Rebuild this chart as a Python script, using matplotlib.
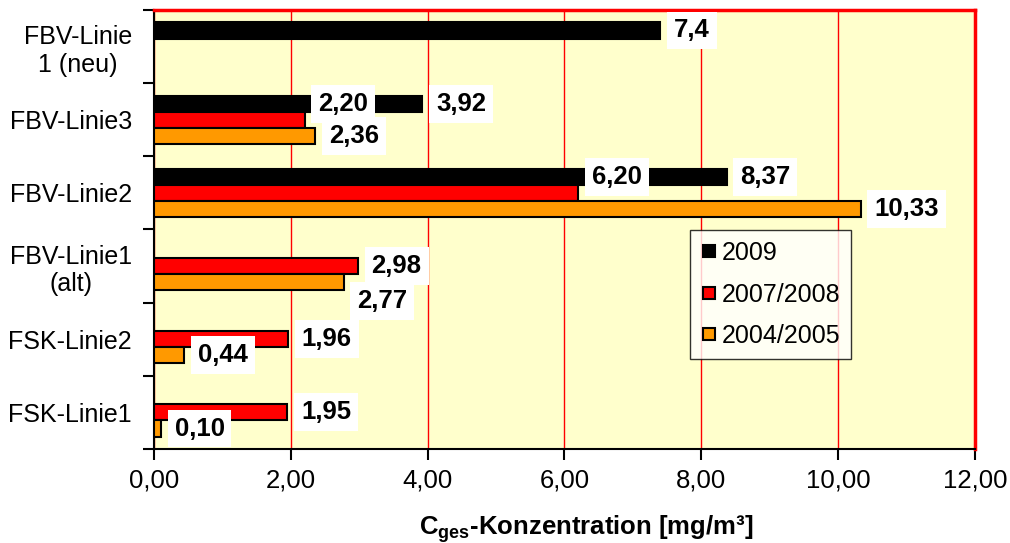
import numpy as np
import matplotlib
matplotlib.use('Agg')
import matplotlib.pyplot as plt
from matplotlib.lines import Line2D

plt.rcParams['font.family'] = ['Liberation Sans', 'DejaVu Sans']
plt.rcParams['mathtext.fontset'] = 'custom'
plt.rcParams['mathtext.rm'] = 'Liberation Sans'
plt.rcParams['mathtext.bf'] = 'Liberation Sans:bold'

# C_ges concentrations per line [mg/m3]
categories = ['FBV-Linie\n1 (neu)', 'FBV-Linie3', 'FBV-Linie2',
              'FBV-Linie1\n(alt)', 'FSK-Linie2', 'FSK-Linie1']
series = ['2009', '2007/2008', '2004/2005']
v2009 = [7.4, 3.92, 8.37, np.nan, np.nan, np.nan]
v0708 = [np.nan, 2.20, 6.20, 2.98, 1.96, 1.95]
v0405 = [np.nan, 2.36, 10.33, 2.77, 0.44, 0.10]
decimals_2009 = [1, 2, 2, 2, 2, 2]

colors = ['#000000', '#FF0000', '#FF9900']
offsets = [-0.22, 0.0, 0.22]
bar_h = 0.22
fs = 18.5

# labels that were moved off their bar (series index, category index) -> dy
label_shift = {(1, 1): -0.22, (1, 2): -0.22, (2, 3): 0.26}

fig = plt.figure(figsize=(10.1, 5.43), dpi=100)
ax = fig.add_axes([0.1525, 0.1731, 0.8128, 0.8085])
ax.set_facecolor('#FFFFCC')

y = np.arange(len(categories))
data = [v2009, v0708, v0405]
for s, vals in enumerate(data):
    vals = np.array(vals, dtype=float)
    ok = ~np.isnan(vals)
    ax.barh(y[ok] + offsets[s], vals[ok], height=bar_h, color=colors[s],
            edgecolor='black', linewidth=1.5, zorder=3)
    for i in np.where(ok)[0]:
        dec = decimals_2009[i] if s == 0 else 2
        txt = ('%.*f' % (dec, vals[i])).replace('.', ',')
        dy = label_shift.get((s, i), 0.0)
        ax.text(vals[i] + 0.2, y[i] + offsets[s] + dy, txt, ha='left', va='center',
                fontsize=fs, fontweight='bold', zorder=5,
                bbox=dict(facecolor='white', edgecolor='none', pad=5))

ax.set_xlim(0, 12)
ax.set_ylim(len(categories) - 0.5, -0.5)
xt = np.arange(0, 13, 2)
ax.set_xticks(xt)
ax.set_xticklabels([('%.2f' % v).replace('.', ',') for v in xt], fontsize=fs)
ax.set_yticks(y)
ax.set_yticklabels(categories, fontsize=18, multialignment='center')
ax.set_yticks(np.arange(-0.5, len(categories)), minor=True)
ax.tick_params(axis='y', which='major', length=0, pad=16)
ax.tick_params(axis='y', which='minor', length=8, width=1.5, direction='out')
ax.tick_params(axis='x', length=8, width=1.5, direction='out', pad=6)

ax.grid(axis='x', color='#FF0000', linewidth=1, zorder=1)
ax.set_axisbelow(True)
for side in ['top', 'right']:
    ax.spines[side].set_color('#FF0000')
    ax.spines[side].set_linewidth(2.5)
for side in ['left', 'bottom']:
    ax.spines[side].set_color('black')
    ax.spines[side].set_linewidth(1.5)

handles = [Line2D([], [], marker='s', linestyle='none', markersize=9,
                  markerfacecolor=c, markeredgecolor='black', markeredgewidth=1.5)
           for c in colors]
leg = ax.legend(handles, series, loc='upper left', bbox_to_anchor=(0.653, 0.499),
                borderaxespad=0, fontsize=18, frameon=True, fancybox=False,
                handlelength=0.6, handletextpad=0.2, labelspacing=0.7,
                borderpad=0.45)
leg.get_frame().set_edgecolor('black')
leg.get_frame().set_linewidth(1)
leg.set_zorder(6)

fig.text(586 / 1010, 1 - 529 / 543, r'$\mathbf{C_{ges}}$-Konzentration [mg/m³]',
         ha='center', va='center', fontsize=18.5, fontweight='bold')

fig.savefig('out.png', dpi=100)
